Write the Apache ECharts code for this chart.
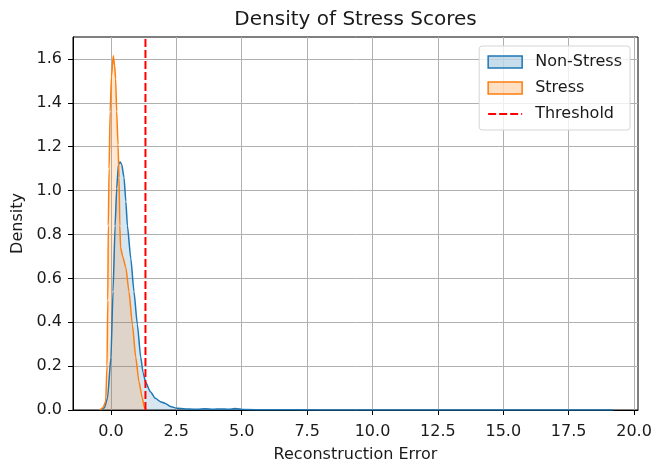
<!DOCTYPE html>
<html>
<head>
<meta charset="utf-8">
<script src="https://cdn.jsdelivr.net/npm/echarts@6.0.0/dist/echarts.min.js"></script>
<style>
  html, body { margin: 0; padding: 0; background: #fff; }
  #chart { width: 652px; height: 463px; }
</style>
</head>
<body>
<div id="chart"></div>
<script>
// density curves: [reconstruction error, density]
const nonStress = [
  [-0.35, 0], [-0.25, 0.01], [-0.13, 0.055], [0.0, 0.24], [0.08, 0.54],
  [0.16, 0.84], [0.22, 1.01], [0.29, 1.12], [0.35, 1.13], [0.41, 1.12],
  [0.5, 1.06], [0.57, 0.95], [0.63, 0.84], [0.76, 0.69], [0.88, 0.54],
  [1.01, 0.39], [1.14, 0.24], [1.23, 0.17], [1.33, 0.125], [1.51, 0.083],
  [1.7, 0.053], [1.89, 0.038], [2.08, 0.03], [2.27, 0.016], [2.53, 0.008],
  [3.0, 0.004], [3.3, 0.003], [3.6, 0.006], [3.9, 0.003], [4.2, 0.005],
  [4.5, 0.003], [4.75, 0.007], [5.1, 0.002], [6.0, 0.001], [8.0, 0.0005],
  [10.0, 0.0003], [12.0, 0.0002], [15.0, 0.0001], [17.5, 0.0001], [19.2, 0]
];
const stress = [
  [-0.42, 0], [-0.3, 0.01], [-0.2, 0.04], [-0.15, 0.2], [-0.12, 0.5],
  [-0.1, 0.84], [-0.07, 1.1], [-0.03, 1.36], [0.02, 1.52], [0.09, 1.615],
  [0.14, 1.57], [0.18, 1.51], [0.22, 1.36], [0.27, 1.21], [0.31, 1.06],
  [0.34, 0.84], [0.37, 0.74], [0.45, 0.7], [0.57, 0.65], [0.69, 0.54],
  [0.82, 0.39], [0.95, 0.24], [1.07, 0.13], [1.2, 0.055], [1.27, 0.015],
  [1.35, 0]
];
const threshold = 1.32;
const xTicks = [0, 2.5, 5, 7.5, 10, 12.5, 15, 17.5, 20];
const yTicks = [0, 0.2, 0.4, 0.6, 0.8, 1.0, 1.2, 1.4, 1.6];
const xRange = [-1.45, 20.15];
const yRange = [0, 1.7];

const font = 'DejaVu Sans';
const textColor = '#1a1a1a';

var myChart = echarts.init(document.getElementById('chart'));
var option = {
  animation: false,
  title: {
    text: 'Density of Stress Scores',
    left: 355.5,
    top: 10,
    padding: 0,
    textAlign: 'center',
    textStyle: { fontFamily: font, fontSize: 20, fontWeight: 'normal', color: textColor }
  },
  grid: {
    left: 73,
    right: 14,
    top: 37,
    bottom: 53,
    show: true,
    borderColor: '#000',
    borderWidth: 1,
    outerBoundsMode: 'none'
  },
  legend: {
    orient: 'vertical',
    right: 22,
    top: 46,
    padding: [8, 8, 8, 8],
    itemGap: 10,
    itemWidth: 34,
    itemHeight: 12,
    backgroundColor: 'rgba(255,255,255,0.8)',
    borderColor: '#d5d5d5',
    borderWidth: 1,
    borderRadius: 3,
    textStyle: { fontFamily: font, fontSize: 16, color: textColor, padding: [0, 0, 0, 8] },
    data: [
      { name: 'Non-Stress', icon: 'rect',
        itemStyle: { color: 'rgba(31,119,180,0.25)', borderColor: '#1f77b4', borderWidth: 1.5 } },
      { name: 'Stress', icon: 'rect',
        itemStyle: { color: 'rgba(255,127,14,0.25)', borderColor: '#ff7f0e', borderWidth: 1.5 } },
      { name: 'Threshold',
        itemStyle: { color: 'rgba(0,0,0,0)', borderColor: 'rgba(0,0,0,0)', borderWidth: 0 } }
    ]
  },
  xAxis: {
    type: 'value',
    min: xRange[0],
    max: xRange[1],
    name: 'Reconstruction Error',
    nameLocation: 'middle',
    nameGap: 37,
    nameTextStyle: { fontFamily: font, fontSize: 16, color: textColor },
    axisLine: { show: true, onZero: false, lineStyle: { color: '#000', width: 1 } },
    axisTick: { show: true, length: 5, customValues: xTicks, lineStyle: { color: '#000' } },
    axisLabel: {
      customValues: xTicks,
      margin: 14,
      fontFamily: font, fontSize: 16, color: textColor,
      formatter: function (v) { return v.toFixed(1); }
    },
    splitLine: { show: true, lineStyle: { color: '#b0b0b0', width: 1 } }
  },
  yAxis: {
    type: 'value',
    min: yRange[0],
    max: yRange[1],
    name: 'Density',
    nameLocation: 'middle',
    nameGap: 45,
    nameTextStyle: { fontFamily: font, fontSize: 16, color: textColor },
    axisLine: { show: true, onZero: false, lineStyle: { color: '#000', width: 1 } },
    axisTick: { show: true, length: 5, customValues: yTicks, lineStyle: { color: '#000' } },
    axisLabel: {
      customValues: yTicks,
      margin: 11,
      fontFamily: font, fontSize: 16, color: textColor,
      formatter: function (v) { return v.toFixed(1); }
    },
    splitLine: { show: true, lineStyle: { color: '#b0b0b0', width: 1 } }
  },
  series: [
    {
      name: 'Non-Stress',
      type: 'line',
      data: nonStress,
      symbol: 'none',
      smooth: 0.2,
      smoothMonotone: 'x',
      itemStyle: { color: '#1f77b4' },
      lineStyle: { color: '#1f77b4', width: 1.5 },
      areaStyle: { color: 'rgba(31,119,180,0.25)' }
    },
    {
      name: 'Stress',
      type: 'line',
      data: stress,
      symbol: 'none',
      smooth: 0.2,
      smoothMonotone: 'x',
      itemStyle: { color: '#ff7f0e' },
      lineStyle: { color: '#ff7f0e', width: 1.5 },
      areaStyle: { color: 'rgba(255,127,14,0.25)' }
    },
    {
      name: 'Threshold',
      type: 'line',
      data: [[threshold, yRange[0]], [threshold, yRange[1]]],
      symbol: 'none',
      itemStyle: { color: '#ff0000' },
      lineStyle: { color: '#ff0000', width: 2, type: [8, 3] }
    }
  ]
};
option && myChart.setOption(option);
</script>
</body>
</html>
